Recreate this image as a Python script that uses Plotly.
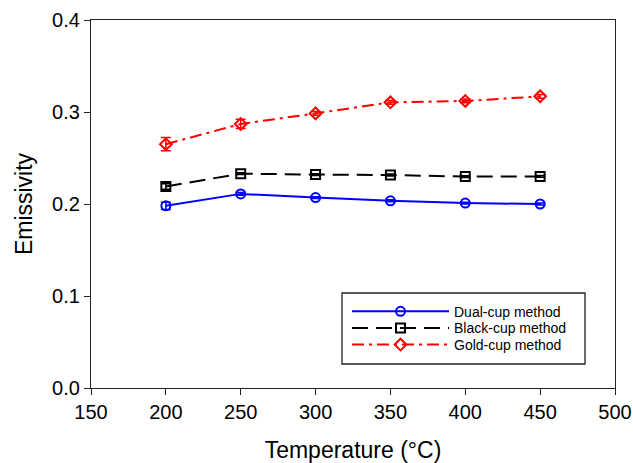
import plotly.graph_objects as go

temps = [200, 250, 300, 350, 400, 450]
dual = [0.198, 0.211, 0.207, 0.2035, 0.201, 0.200]
dual_err = [0.004, 0.0015, 0.001, 0.001, 0.001, 0.001]
black = [0.219, 0.233, 0.232, 0.2315, 0.2298, 0.230]
black_err = [0.003, 0.001, 0.001, 0.001, 0.001, 0.001]
gold = [0.265, 0.287, 0.2985, 0.3105, 0.312, 0.317]
gold_err = [0.0072, 0.005, 0.002, 0.002, 0.002, 0.002]

x_ticks = [150, 200, 250, 300, 350, 400, 450, 500]
y_ticks = [0.0, 0.1, 0.2, 0.3, 0.4]

FONT = "Liberation Sans"
PL, PR, PT, PB = 91, 615, 20, 388  # plot box in pixels


def px_x(p):
    return (p - PL) / (PR - PL)


def px_y(p):
    return (PB - p) / (PB - PT)


fig = go.Figure()


def add(name, y, err, color, dash, symbol, legend):
    fig.add_trace(go.Scatter(
        x=temps, y=y, name=name, mode="lines+markers", legend=legend,
        line=dict(color=color, width=2, dash=dash),
        marker=dict(symbol=symbol, size=9, color="rgba(255,255,255,0)",
                    line=dict(color=color, width=2)),
        error_y=dict(type="data", array=err, visible=True,
                     color=color, thickness=1.5, width=5),
    ))


add("Dual-cup method", dual, dual_err, "#0000ff", "solid", "circle", "legend")
add("Black-cup method", black, black_err, "#000000", "16px,8px", "square", "legend2")
add("Gold-cup method", gold, gold_err, "#ff0000", "12px,5px,3px,5px", "diamond", "legend3")

axis_common = dict(
    showline=True, linecolor="#222222", linewidth=1.3, mirror=True,
    ticks="outside", ticklen=6, tickcolor="#222222", showgrid=False,
    zeroline=False, automargin=False,
    tickfont=dict(family=FONT, size=20, color="#000"),
)


def leg(row_y):
    return dict(x=px_x(347), y=px_y(row_y), xanchor="left", yanchor="middle",
                borderwidth=0, bgcolor="rgba(0,0,0,0)",
                itemwidth=97, tracegroupgap=0,
                font=dict(family=FONT, size=14, color="#000"))


fig.update_layout(
    width=633, height=463,
    margin=dict(l=PL, r=633 - PR, t=PT, b=463 - PB),
    plot_bgcolor="white", paper_bgcolor="white",
    xaxis=dict(range=[150, 500], tickvals=x_ticks,
               title=dict(text="Temperature (°C)", standoff=20,
                          font=dict(family=FONT, size=23, color="#000")),
               **axis_common),
    yaxis=dict(range=[0, 0.4], tickvals=y_ticks, tickformat=".1f",
               title=dict(text="Emissivity", standoff=12,
                          font=dict(family=FONT, size=23, color="#000")),
               **axis_common),
    legend=leg(311.7),
    legend2=leg(328.3),
    legend3=leg(345),
    showlegend=True,
    shapes=[dict(type="rect", xref="paper", yref="paper",
                 x0=px_x(342), x1=px_x(585), y0=px_y(364), y1=px_y(293),
                 line=dict(color="#222222", width=1.3), fillcolor="white",
                 layer="below")],
)

fig.write_html("out.html")
